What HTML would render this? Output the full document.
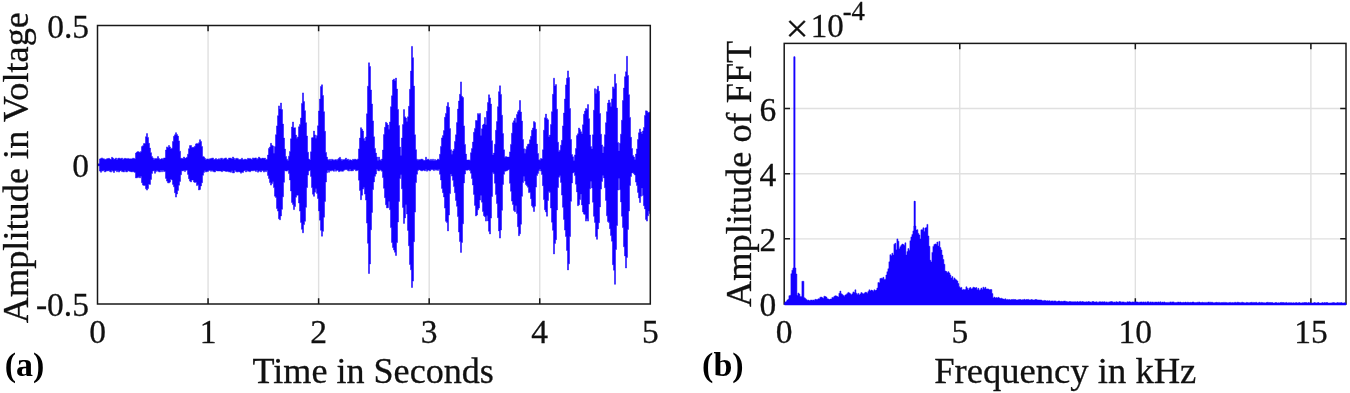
<!DOCTYPE html>
<html><head><meta charset="utf-8"><title>Signal and FFT</title>
<style>html,body{margin:0;padding:0;background:#fff;width:1350px;height:393px;overflow:hidden}svg{display:block;filter:blur(0.3px)}</style>
</head><body>
<svg width="1350" height="393" viewBox="0 0 1350 393">
<rect width="1350" height="393" fill="#fff"/>
<g stroke="#e0e0e0" stroke-width="1.4"><line x1="208.06" y1="25.50" x2="208.06" y2="304.00"/><line x1="318.62" y1="25.50" x2="318.62" y2="304.00"/><line x1="429.18" y1="25.50" x2="429.18" y2="304.00"/><line x1="539.74" y1="25.50" x2="539.74" y2="304.00"/></g>
<path d="M208.06 304.00v-5.8M208.06 25.50v5.8M318.62 304.00v-5.8M318.62 25.50v5.8M429.18 304.00v-5.8M429.18 25.50v5.8M539.74 304.00v-5.8M539.74 25.50v5.8M97.50 164.75h5.8M650.30 164.75h-5.8" stroke="#181818" stroke-width="1.5" fill="none"/>
<polygon points="97.5,163.8 98.5,163.8 98.5,163.8 99.5,163.8 99.5,158.9 100.5,158.9 100.5,158.4 101.5,158.4 101.5,157.9 102.5,157.9 102.5,158.7 103.5,158.7 103.5,158.8 104.5,158.8 104.5,159.6 105.5,159.6 105.5,159.2 106.5,159.2 106.5,158.8 107.5,158.8 107.5,158.5 108.5,158.5 108.5,158.3 109.5,158.3 109.5,159 110.5,159 110.5,159.6 111.5,159.6 111.5,157.3 112.5,157.3 112.5,158.1 113.5,158.1 113.5,159.3 114.5,159.3 114.5,158.9 115.5,158.9 115.5,158 116.5,158 116.5,159.7 117.5,159.7 117.5,158.6 118.5,158.6 118.5,158 119.5,158 119.5,158.4 120.5,158.4 120.5,158.7 121.5,158.7 121.5,158.1 122.5,158.1 122.5,159.5 123.5,159.5 123.5,158.8 124.5,158.8 124.5,158.3 125.5,158.3 125.5,158.5 126.5,158.5 126.5,158.9 127.5,158.9 127.5,158.4 128.5,158.4 128.5,158.8 129.5,158.8 129.5,159 130.5,159 130.5,158.8 131.5,158.8 131.5,159 132.5,159 132.5,158.2 133.5,158.2 133.5,158.3 134.5,158.3 134.5,159.1 135.5,159.1 135.5,153.1 136.5,153.1 136.5,152.1 137.5,152.1 137.5,151.5 138.5,151.5 138.5,151.9 139.5,151.9 139.5,152.6 140.5,152.6 140.5,151.5 141.5,151.5 141.5,146.6 142.5,146.6 142.5,145.7 143.5,145.7 143.5,143.6 144.5,143.6 144.5,143.5 145.5,143.5 145.5,136.7 146.5,136.7 146.5,133.6 147.5,133.6 147.5,137.4 148.5,137.4 148.5,143.3 149.5,143.3 149.5,148.1 150.5,148.1 150.5,152.7 151.5,152.7 151.5,156.5 152.5,156.5 152.5,157.9 153.5,157.9 153.5,159.5 154.5,159.5 154.5,158.4 155.5,158.4 155.5,158.8 156.5,158.8 156.5,158.4 157.5,158.4 157.5,156.6 158.5,156.6 158.5,158.5 159.5,158.5 159.5,159.6 160.5,159.6 160.5,159.1 161.5,159.1 161.5,158.6 162.5,158.6 162.5,159.3 163.5,159.3 163.5,158 164.5,158 164.5,158 165.5,158 165.5,150 166.5,150 166.5,146.9 167.5,146.9 167.5,147.8 168.5,147.8 168.5,145.5 169.5,145.5 169.5,146.9 170.5,146.9 170.5,148.9 171.5,148.9 171.5,148.2 172.5,148.2 172.5,141.5 173.5,141.5 173.5,136.3 174.5,136.3 174.5,134.8 175.5,134.8 175.5,132.7 176.5,132.7 176.5,134.5 177.5,134.5 177.5,136.1 178.5,136.1 178.5,140.9 179.5,140.9 179.5,151.2 180.5,151.2 180.5,158.3 181.5,158.3 181.5,158.3 182.5,158.3 182.5,158.8 183.5,158.8 183.5,157 184.5,157 184.5,158.3 185.5,158.3 185.5,158.1 186.5,158.1 186.5,157.2 187.5,157.2 187.5,154.2 188.5,154.2 188.5,148.7 189.5,148.7 189.5,145.6 190.5,145.6 190.5,145.5 191.5,145.5 191.5,147.6 192.5,147.6 192.5,147.3 193.5,147.3 193.5,147.2 194.5,147.2 194.5,146.2 195.5,146.2 195.5,143.9 196.5,143.9 196.5,143.4 197.5,143.4 197.5,143.9 198.5,143.9 198.5,142.7 199.5,142.7 199.5,139.7 200.5,139.7 200.5,141.5 201.5,141.5 201.5,146.5 202.5,146.5 202.5,156.4 203.5,156.4 203.5,156.9 204.5,156.9 204.5,158.3 205.5,158.3 205.5,159.7 206.5,159.7 206.5,158.9 207.5,158.9 207.5,158.9 208.5,158.9 208.5,159.6 209.5,159.6 209.5,158.7 210.5,158.7 210.5,158.6 211.5,158.6 211.5,158.2 212.5,158.2 212.5,158 213.5,158 213.5,159.5 214.5,159.5 214.5,159.3 215.5,159.3 215.5,158.5 216.5,158.5 216.5,159.5 217.5,159.5 217.5,159.3 218.5,159.3 218.5,158.7 219.5,158.7 219.5,159.4 220.5,159.4 220.5,158.3 221.5,158.3 221.5,158.2 222.5,158.2 222.5,159.6 223.5,159.6 223.5,158.7 224.5,158.7 224.5,158.3 225.5,158.3 225.5,157.9 226.5,157.9 226.5,159.2 227.5,159.2 227.5,159.4 228.5,159.4 228.5,158.1 229.5,158.1 229.5,158.1 230.5,158.1 230.5,158.2 231.5,158.2 231.5,158.9 232.5,158.9 232.5,157 233.5,157 233.5,158.2 234.5,158.2 234.5,159.4 235.5,159.4 235.5,158.5 236.5,158.5 236.5,158.2 237.5,158.2 237.5,158.7 238.5,158.7 238.5,159.4 239.5,159.4 239.5,159.6 240.5,159.6 240.5,159.2 241.5,159.2 241.5,158.2 242.5,158.2 242.5,159.6 243.5,159.6 243.5,159.7 244.5,159.7 244.5,159 245.5,159 245.5,159.6 246.5,159.6 246.5,159.4 247.5,159.4 247.5,158.3 248.5,158.3 248.5,158.8 249.5,158.8 249.5,158.4 250.5,158.4 250.5,158.9 251.5,158.9 251.5,159.5 252.5,159.5 252.5,157.9 253.5,157.9 253.5,158.6 254.5,158.6 254.5,158 255.5,158 255.5,157.9 256.5,157.9 256.5,159.3 257.5,159.3 257.5,158.5 258.5,158.5 258.5,157.1 259.5,157.1 259.5,158 260.5,158 260.5,158.9 261.5,158.9 261.5,158.3 262.5,158.3 262.5,158.1 263.5,158.1 263.5,158.6 264.5,158.6 264.5,158.1 265.5,158.1 265.5,159.7 266.5,159.7 266.5,159.2 267.5,159.2 267.5,155.1 268.5,155.1 268.5,148.4 269.5,148.4 269.5,147 270.5,147 270.5,143.3 271.5,143.3 271.5,145.3 272.5,145.3 272.5,145.9 273.5,145.9 273.5,153.3 274.5,153.3 274.5,146.6 275.5,146.6 275.5,134.7 276.5,134.7 276.5,125.9 277.5,125.9 277.5,115.7 278.5,115.7 278.5,105.9 279.5,105.9 279.5,108.9 280.5,108.9 280.5,103 281.5,103 281.5,109.6 282.5,109.6 282.5,124.1 283.5,124.1 283.5,138.1 284.5,138.1 284.5,149.1 285.5,149.1 285.5,156.5 286.5,156.5 286.5,159.2 287.5,159.2 287.5,160.5 288.5,160.5 288.5,156.2 289.5,156.2 289.5,151.4 290.5,151.4 290.5,138.8 291.5,138.8 291.5,127 292.5,127 292.5,122 293.5,122 293.5,128.1 294.5,128.1 294.5,127.7 295.5,127.7 295.5,135.1 296.5,135.1 296.5,138.2 297.5,138.2 297.5,136.9 298.5,136.9 298.5,126.8 299.5,126.8 299.5,124.4 300.5,124.4 300.5,118 301.5,118 301.5,103.4 302.5,103.4 302.5,92.9 303.5,92.9 303.5,101.6 304.5,101.6 304.5,110.7 305.5,110.7 305.5,122.7 306.5,122.7 306.5,136 307.5,136 307.5,152.2 308.5,152.2 308.5,159 309.5,159 309.5,159.9 310.5,159.9 310.5,151.8 311.5,151.8 311.5,137.8 312.5,137.8 312.5,137.6 313.5,137.6 313.5,131.1 314.5,131.1 314.5,134.9 315.5,134.9 315.5,138.2 316.5,138.2 316.5,135.6 317.5,135.6 317.5,125.8 318.5,125.8 318.5,111 319.5,111 319.5,99.1 320.5,99.1 320.5,86.4 321.5,86.4 321.5,84.8 322.5,84.8 322.5,95.5 323.5,95.5 323.5,111.7 324.5,111.7 324.5,131.3 325.5,131.3 325.5,152.4 326.5,152.4 326.5,157.1 327.5,157.1 327.5,159.6 328.5,159.6 328.5,160.3 329.5,160.3 329.5,159.3 330.5,159.3 330.5,160.4 331.5,160.4 331.5,159.2 332.5,159.2 332.5,159.7 333.5,159.7 333.5,160.2 334.5,160.2 334.5,159.8 335.5,159.8 335.5,159.6 336.5,159.6 336.5,160.2 337.5,160.2 337.5,159.2 338.5,159.2 338.5,158.2 339.5,158.2 339.5,157.3 340.5,157.3 340.5,159.2 341.5,159.2 341.5,160.5 342.5,160.5 342.5,159.5 343.5,159.5 343.5,160.1 344.5,160.1 344.5,159.3 345.5,159.3 345.5,158.1 346.5,158.1 346.5,159.9 347.5,159.9 347.5,159.1 348.5,159.1 348.5,160.6 349.5,160.6 349.5,159.7 350.5,159.7 350.5,160.1 351.5,160.1 351.5,160.6 352.5,160.6 352.5,159.3 353.5,159.3 353.5,159.7 354.5,159.7 354.5,159.1 355.5,159.1 355.5,159.6 356.5,159.6 356.5,160.1 357.5,160.1 357.5,158.9 358.5,158.9 358.5,148.9 359.5,148.9 359.5,138.1 360.5,138.1 360.5,127.7 361.5,127.7 361.5,129.2 362.5,129.2 362.5,131 363.5,131 363.5,138.4 364.5,138.4 364.5,141 365.5,141 365.5,137 366.5,137 366.5,113.8 367.5,113.8 367.5,86.2 368.5,86.2 368.5,62.8 369.5,62.8 369.5,66.5 370.5,66.5 370.5,90 371.5,90 371.5,104 372.5,104 372.5,120.9 373.5,120.9 373.5,136.8 374.5,136.8 374.5,148.4 375.5,148.4 375.5,153.1 376.5,153.1 376.5,157 377.5,157 377.5,160.5 378.5,160.5 378.5,157.1 379.5,157.1 379.5,159.7 380.5,159.7 380.5,160.6 381.5,160.6 381.5,159 382.5,159 382.5,150 383.5,150 383.5,134.6 384.5,134.6 384.5,127.3 385.5,127.3 385.5,122.3 386.5,122.3 386.5,123.3 387.5,123.3 387.5,125 388.5,125 388.5,129.2 389.5,129.2 389.5,122 390.5,122 390.5,106.7 391.5,106.7 391.5,95.8 392.5,95.8 392.5,80.1 393.5,80.1 393.5,79.1 394.5,79.1 394.5,80.7 395.5,80.7 395.5,78.1 396.5,78.1 396.5,89 397.5,89 397.5,109.4 398.5,109.4 398.5,125.6 399.5,125.6 399.5,147.1 400.5,147.1 400.5,155.5 401.5,155.5 401.5,138 402.5,138 402.5,124.6 403.5,124.6 403.5,109.6 404.5,109.6 404.5,116.8 405.5,116.8 405.5,118.1 406.5,118.1 406.5,121.5 407.5,121.5 407.5,116.8 408.5,116.8 408.5,106.3 409.5,106.3 409.5,89.3 410.5,89.3 410.5,71.1 411.5,71.1 411.5,46.4 412.5,46.4 412.5,57.7 413.5,57.7 413.5,86.1 414.5,86.1 414.5,134.8 415.5,134.8 415.5,149.7 416.5,149.7 416.5,159.2 417.5,159.2 417.5,160.3 418.5,160.3 418.5,159.5 419.5,159.5 419.5,160 420.5,160 420.5,159.3 421.5,159.3 421.5,159.1 422.5,159.1 422.5,159.8 423.5,159.8 423.5,160.5 424.5,160.5 424.5,160.3 425.5,160.3 425.5,157.2 426.5,157.2 426.5,160.1 427.5,160.1 427.5,159.1 428.5,159.1 428.5,159.8 429.5,159.8 429.5,160.6 430.5,160.6 430.5,159.3 431.5,159.3 431.5,160.6 432.5,160.6 432.5,159.2 433.5,159.2 433.5,160.7 434.5,160.7 434.5,159.5 435.5,159.5 435.5,160.4 436.5,160.4 436.5,160.1 437.5,160.1 437.5,159 438.5,159 438.5,159.8 439.5,159.8 439.5,154.3 440.5,154.3 440.5,146.4 441.5,146.4 441.5,137.9 442.5,137.9 442.5,135.6 443.5,135.6 443.5,130.6 444.5,130.6 444.5,117.3 445.5,117.3 445.5,113.4 446.5,113.4 446.5,106.2 447.5,106.2 447.5,102.6 448.5,102.6 448.5,107.3 449.5,107.3 449.5,128.6 450.5,128.6 450.5,149.7 451.5,149.7 451.5,154.3 452.5,154.3 452.5,150.9 453.5,150.9 453.5,149.3 454.5,149.3 454.5,141.4 455.5,141.4 455.5,134.8 456.5,134.8 456.5,122.6 457.5,122.6 457.5,109.1 458.5,109.1 458.5,101 459.5,101 459.5,94.3 460.5,94.3 460.5,81.9 461.5,81.9 461.5,96.3 462.5,96.3 462.5,97.5 463.5,97.5 463.5,125.9 464.5,125.9 464.5,144.4 465.5,144.4 465.5,154.1 466.5,154.1 466.5,160 467.5,160 467.5,160.1 468.5,160.1 468.5,159.9 469.5,159.9 469.5,160.2 470.5,160.2 470.5,152.7 471.5,152.7 471.5,148.6 472.5,148.6 472.5,142.1 473.5,142.1 473.5,132.3 474.5,132.3 474.5,128.4 475.5,128.4 475.5,120.5 476.5,120.5 476.5,120.5 477.5,120.5 477.5,113.6 478.5,113.6 478.5,114.6 479.5,114.6 479.5,113.4 480.5,113.4 480.5,135.5 481.5,135.5 481.5,128.8 482.5,128.8 482.5,125 483.5,125 483.5,124 484.5,124 484.5,117.5 485.5,117.5 485.5,124.7 486.5,124.7 486.5,111.3 487.5,111.3 487.5,102.5 488.5,102.5 488.5,94.8 489.5,94.8 489.5,97.9 490.5,97.9 490.5,104.1 491.5,104.1 491.5,140.7 492.5,140.7 492.5,155.1 493.5,155.1 493.5,153.1 494.5,153.1 494.5,144.2 495.5,144.2 495.5,130.3 496.5,130.3 496.5,121.6 497.5,121.6 497.5,106.7 498.5,106.7 498.5,91.7 499.5,91.7 499.5,85.8 500.5,85.8 500.5,94.4 501.5,94.4 501.5,115.2 502.5,115.2 502.5,133.6 503.5,133.6 503.5,149.8 504.5,149.8 504.5,157.2 505.5,157.2 505.5,156.6 506.5,156.6 506.5,157.1 507.5,157.1 507.5,157.1 508.5,157.1 508.5,157.1 509.5,157.1 509.5,151.9 510.5,151.9 510.5,144.4 511.5,144.4 511.5,133.2 512.5,133.2 512.5,122.8 513.5,122.8 513.5,120.8 514.5,120.8 514.5,118.2 515.5,118.2 515.5,122.5 516.5,122.5 516.5,114.4 517.5,114.4 517.5,111.8 518.5,111.8 518.5,110.2 519.5,110.2 519.5,100.5 520.5,100.5 520.5,112 521.5,112 521.5,121.1 522.5,121.1 522.5,139.5 523.5,139.5 523.5,148.7 524.5,148.7 524.5,153.3 525.5,153.3 525.5,149.2 526.5,149.2 526.5,146.6 527.5,146.6 527.5,144.3 528.5,144.3 528.5,143.9 529.5,143.9 529.5,139.8 530.5,139.8 530.5,136.3 531.5,136.3 531.5,130.3 532.5,130.3 532.5,128 533.5,128 533.5,121.6 534.5,121.6 534.5,122.6 535.5,122.6 535.5,129.2 536.5,129.2 536.5,144.1 537.5,144.1 537.5,153.5 538.5,153.5 538.5,159.7 539.5,159.7 539.5,160.3 540.5,160.3 540.5,158.5 541.5,158.5 541.5,159 542.5,159 542.5,149.8 543.5,149.8 543.5,130.2 544.5,130.2 544.5,117.8 545.5,117.8 545.5,114.1 546.5,114.1 546.5,118.4 547.5,118.4 547.5,119.8 548.5,119.8 548.5,136.7 549.5,136.7 549.5,135.1 550.5,135.1 550.5,124.5 551.5,124.5 551.5,111.7 552.5,111.7 552.5,94.3 553.5,94.3 553.5,78.2 554.5,78.2 554.5,85.9 555.5,85.9 555.5,84.6 556.5,84.6 556.5,109.2 557.5,109.2 557.5,142.2 558.5,142.2 558.5,151.4 559.5,151.4 559.5,150.2 560.5,150.2 560.5,145.2 561.5,145.2 561.5,140.3 562.5,140.3 562.5,125.9 563.5,125.9 563.5,113 564.5,113 564.5,99 565.5,99 565.5,84.9 566.5,84.9 566.5,78.2 567.5,78.2 567.5,70.9 568.5,70.9 568.5,77.5 569.5,77.5 569.5,108.5 570.5,108.5 570.5,139.5 571.5,139.5 571.5,154.6 572.5,154.6 572.5,156.8 573.5,156.8 573.5,160.4 574.5,160.4 574.5,154.9 575.5,154.9 575.5,148.5 576.5,148.5 576.5,135.6 577.5,135.6 577.5,133.8 578.5,133.8 578.5,128 579.5,128 579.5,129.6 580.5,129.6 580.5,131.8 581.5,131.8 581.5,134 582.5,134 582.5,124.8 583.5,124.8 583.5,114.2 584.5,114.2 584.5,111.1 585.5,111.1 585.5,108.5 586.5,108.5 586.5,109.2 587.5,109.2 587.5,104.6 588.5,104.6 588.5,118.7 589.5,118.7 589.5,135 590.5,135 590.5,146.6 591.5,146.6 591.5,149.1 592.5,149.1 592.5,134.8 593.5,134.8 593.5,110.2 594.5,110.2 594.5,88.7 595.5,88.7 595.5,93.5 596.5,93.5 596.5,89.5 597.5,89.5 597.5,86.2 598.5,86.2 598.5,91.3 599.5,91.3 599.5,113.5 600.5,113.5 600.5,134.2 601.5,134.2 601.5,144.9 602.5,144.9 602.5,153.1 603.5,153.1 603.5,146.7 604.5,146.7 604.5,134.7 605.5,134.7 605.5,122.7 606.5,122.7 606.5,111.7 607.5,111.7 607.5,103.1 608.5,103.1 608.5,100.1 609.5,100.1 609.5,102.7 610.5,102.7 610.5,106.4 611.5,106.4 611.5,98.9 612.5,98.9 612.5,86.9 613.5,86.9 613.5,88.5 614.5,88.5 614.5,74.2 615.5,74.2 615.5,83.6 616.5,83.6 616.5,108.1 617.5,108.1 617.5,142.5 618.5,142.5 618.5,151 619.5,151 619.5,143.2 620.5,143.2 620.5,134.2 621.5,134.2 621.5,120.2 622.5,120.2 622.5,100.5 623.5,100.5 623.5,88.1 624.5,88.1 624.5,76.7 625.5,76.7 625.5,71.8 626.5,71.8 626.5,56.3 627.5,56.3 627.5,75.4 628.5,75.4 628.5,94.7 629.5,94.7 629.5,117.4 630.5,117.4 630.5,137.3 631.5,137.3 631.5,148.5 632.5,148.5 632.5,155.5 633.5,155.5 633.5,157 634.5,157 634.5,159.4 635.5,159.4 635.5,154.1 636.5,154.1 636.5,148.9 637.5,148.9 637.5,139.5 638.5,139.5 638.5,132.8 639.5,132.8 639.5,129 640.5,129 640.5,131.9 641.5,131.9 641.5,134 642.5,134 642.5,131 643.5,131 643.5,127.5 644.5,127.5 644.5,115.4 645.5,115.4 645.5,110.8 646.5,110.8 646.5,111.1 647.5,111.1 647.5,112.5 648.5,112.5 648.5,112.4 649.5,112.4 649.5,112 650.3,112 650.3,213.6 649.5,213.6 649.5,211 648.5,211 648.5,215.8 647.5,215.8 647.5,221.1 646.5,221.1 646.5,219.4 645.5,219.4 645.5,208.9 644.5,208.9 644.5,205.7 643.5,205.7 643.5,195.6 642.5,195.6 642.5,188 641.5,188 641.5,196.2 640.5,196.2 640.5,202.5 639.5,202.5 639.5,197.9 638.5,197.9 638.5,192.4 637.5,192.4 637.5,185.6 636.5,185.6 636.5,182.1 635.5,182.1 635.5,175 634.5,175 634.5,173.7 633.5,173.7 633.5,172.7 632.5,172.7 632.5,172.9 631.5,172.9 631.5,176.5 630.5,176.5 630.5,185.5 629.5,185.5 629.5,211 628.5,211 628.5,229.4 627.5,229.4 627.5,257.4 626.5,257.4 626.5,268 625.5,268 625.5,255.9 624.5,255.9 624.5,246.8 623.5,246.8 623.5,227.6 622.5,227.6 622.5,216.2 621.5,216.2 621.5,201.9 620.5,201.9 620.5,189.7 619.5,189.7 619.5,178.6 618.5,178.6 618.5,190.1 617.5,190.1 617.5,225.5 616.5,225.5 616.5,249.5 615.5,249.5 615.5,284.3 614.5,284.3 614.5,270.2 613.5,270.2 613.5,264.7 612.5,264.7 612.5,241.2 611.5,241.2 611.5,235.6 610.5,235.6 610.5,228.7 609.5,228.7 609.5,222.5 608.5,222.5 608.5,221.6 607.5,221.6 607.5,215.8 606.5,215.8 606.5,200.4 605.5,200.4 605.5,187.8 604.5,187.8 604.5,177.9 603.5,177.9 603.5,175.5 602.5,175.5 602.5,181.4 601.5,181.4 601.5,189.1 600.5,189.1 600.5,206.9 599.5,206.9 599.5,222.7 598.5,222.7 598.5,228.9 597.5,228.9 597.5,239.3 596.5,239.3 596.5,236.5 595.5,236.5 595.5,222.4 594.5,222.4 594.5,216.3 593.5,216.3 593.5,202.2 592.5,202.2 592.5,187.9 591.5,187.9 591.5,181.6 590.5,181.6 590.5,188.8 589.5,188.8 589.5,204.1 588.5,204.1 588.5,221.1 587.5,221.1 587.5,218.7 586.5,218.7 586.5,221.1 585.5,221.1 585.5,214.6 584.5,214.6 584.5,214.1 583.5,214.1 583.5,211.9 582.5,211.9 582.5,204.9 581.5,204.9 581.5,194 580.5,194 580.5,199.6 579.5,199.6 579.5,204.8 578.5,204.8 578.5,205.7 577.5,205.7 577.5,191.9 576.5,191.9 576.5,184.2 575.5,184.2 575.5,175.6 574.5,175.6 574.5,172 573.5,172 573.5,173 572.5,173 572.5,182.9 571.5,182.9 571.5,201.3 570.5,201.3 570.5,236.6 569.5,236.6 569.5,263.8 568.5,263.8 568.5,269.9 567.5,269.9 567.5,250.5 566.5,250.5 566.5,236.5 565.5,236.5 565.5,230.1 564.5,230.1 564.5,219.4 563.5,219.4 563.5,207.3 562.5,207.3 562.5,195.1 561.5,195.1 561.5,182.4 560.5,182.4 560.5,175.8 559.5,175.8 559.5,177.3 558.5,177.3 558.5,187.5 557.5,187.5 557.5,209.9 556.5,209.9 556.5,239.7 555.5,239.7 555.5,243.4 554.5,243.4 554.5,253.9 553.5,253.9 553.5,230.3 552.5,230.3 552.5,222.2 551.5,222.2 551.5,208 550.5,208 550.5,192.5 549.5,192.5 549.5,191.4 548.5,191.4 548.5,200.5 547.5,200.5 547.5,216.2 546.5,216.2 546.5,211.9 545.5,211.9 545.5,209.8 544.5,209.8 544.5,199.6 543.5,199.6 543.5,185.7 542.5,185.7 542.5,174.5 541.5,174.5 541.5,171.1 540.5,171.1 540.5,169.3 539.5,169.3 539.5,170.7 538.5,170.7 538.5,173.4 537.5,173.4 537.5,175.6 536.5,175.6 536.5,187.1 535.5,187.1 535.5,206.2 534.5,206.2 534.5,211.5 533.5,211.5 533.5,207.3 532.5,207.3 532.5,205.8 531.5,205.8 531.5,198.7 530.5,198.7 530.5,192.6 529.5,192.6 529.5,192.6 528.5,192.6 528.5,187.3 527.5,187.3 527.5,185.8 526.5,185.8 526.5,184.5 525.5,184.5 525.5,181.1 524.5,181.1 524.5,176.6 523.5,176.6 523.5,182.6 522.5,182.6 522.5,196.3 521.5,196.3 521.5,224.2 520.5,224.2 520.5,233.8 519.5,233.8 519.5,235.7 518.5,235.7 518.5,226.7 517.5,226.7 517.5,213.6 516.5,213.6 516.5,205.8 515.5,205.8 515.5,211.7 514.5,211.7 514.5,210.4 513.5,210.4 513.5,204.5 512.5,204.5 512.5,201.1 511.5,201.1 511.5,191.3 510.5,191.3 510.5,183.3 509.5,183.3 509.5,169.5 508.5,169.5 508.5,170 507.5,170 507.5,170.7 506.5,170.7 506.5,171 505.5,171 505.5,171.3 504.5,171.3 504.5,174.3 503.5,174.3 503.5,184.4 502.5,184.4 502.5,210.3 501.5,210.3 501.5,230 500.5,230 500.5,238.1 499.5,238.1 499.5,230.9 498.5,230.9 498.5,217.7 497.5,217.7 497.5,203.6 496.5,203.6 496.5,194.6 495.5,194.6 495.5,183.2 494.5,183.2 494.5,173.7 493.5,173.7 493.5,172.5 492.5,172.5 492.5,196.5 491.5,196.5 491.5,218.1 490.5,218.1 490.5,233.9 489.5,233.9 489.5,231.3 488.5,231.3 488.5,220.9 487.5,220.9 487.5,215.8 486.5,215.8 486.5,221.1 485.5,221.1 485.5,216.7 484.5,216.7 484.5,215.7 483.5,215.7 483.5,211.6 482.5,211.6 482.5,202.2 481.5,202.2 481.5,195.5 480.5,195.5 480.5,200.1 479.5,200.1 479.5,208 478.5,208 478.5,209.8 477.5,209.8 477.5,215 476.5,215 476.5,215.9 475.5,215.9 475.5,205.4 474.5,205.4 474.5,194.4 473.5,194.4 473.5,185 472.5,185 472.5,178.5 471.5,178.5 471.5,173.2 470.5,173.2 470.5,170.6 469.5,170.6 469.5,169.8 468.5,169.8 468.5,169.9 467.5,169.9 467.5,170.3 466.5,170.3 466.5,169.9 465.5,169.9 465.5,174 464.5,174 464.5,182.9 463.5,182.9 463.5,223.8 462.5,223.8 462.5,242.4 461.5,242.4 461.5,252.4 460.5,252.4 460.5,241.6 459.5,241.6 459.5,232 458.5,232 458.5,216.6 457.5,216.6 457.5,206.3 456.5,206.3 456.5,200.5 455.5,200.5 455.5,192.7 454.5,192.7 454.5,186.6 453.5,186.6 453.5,180.3 452.5,180.3 452.5,176.1 451.5,176.1 451.5,174.1 450.5,174.1 450.5,193.6 449.5,193.6 449.5,215 448.5,215 448.5,230.9 447.5,230.9 447.5,222.6 446.5,222.6 446.5,221.3 445.5,221.3 445.5,208.1 444.5,208.1 444.5,197 443.5,197 443.5,192.7 442.5,192.7 442.5,188.4 441.5,188.4 441.5,180 440.5,180 440.5,174.3 439.5,174.3 439.5,169.6 438.5,169.6 438.5,170.4 437.5,170.4 437.5,169.8 436.5,169.8 436.5,170.2 435.5,170.2 435.5,169.5 434.5,169.5 434.5,170.6 433.5,170.6 433.5,169.8 432.5,169.8 432.5,169.6 431.5,169.6 431.5,169.8 430.5,169.8 430.5,170.9 429.5,170.9 429.5,170 428.5,170 428.5,170.2 427.5,170.2 427.5,171.2 426.5,171.2 426.5,169.5 425.5,169.5 425.5,170.9 424.5,170.9 424.5,170.3 423.5,170.3 423.5,170.2 422.5,170.2 422.5,171 421.5,171 421.5,170.6 420.5,170.6 420.5,169.9 419.5,169.9 419.5,169.7 418.5,169.7 418.5,170.4 417.5,170.4 417.5,174.2 416.5,174.2 416.5,182.6 415.5,182.6 415.5,212.1 414.5,212.1 414.5,241.7 413.5,241.7 413.5,281.1 412.5,281.1 412.5,287.5 411.5,287.5 411.5,269.8 410.5,269.8 410.5,264.5 409.5,264.5 409.5,245.8 408.5,245.8 408.5,230.4 407.5,230.4 407.5,214 406.5,214 406.5,204.8 405.5,204.8 405.5,217.9 404.5,217.9 404.5,223.4 403.5,223.4 403.5,207.4 402.5,207.4 402.5,188.8 401.5,188.8 401.5,174.7 400.5,174.7 400.5,178.5 399.5,178.5 399.5,201.4 398.5,201.4 398.5,222 397.5,222 397.5,242.6 396.5,242.6 396.5,255.5 395.5,255.5 395.5,252.3 394.5,252.3 394.5,250 393.5,250 393.5,247.5 392.5,247.5 392.5,242.5 391.5,242.5 391.5,227.6 390.5,227.6 390.5,209.7 389.5,209.7 389.5,201.4 388.5,201.4 388.5,207.7 387.5,207.7 387.5,207.9 386.5,207.9 386.5,204.8 385.5,204.8 385.5,197.7 384.5,197.7 384.5,188.3 383.5,188.3 383.5,177.5 382.5,177.5 382.5,171.3 381.5,171.3 381.5,170.3 380.5,170.3 380.5,169.7 379.5,169.7 379.5,171 378.5,171 378.5,170.4 377.5,170.4 377.5,169.3 376.5,169.3 376.5,174 375.5,174 375.5,176.3 374.5,176.3 374.5,181.9 373.5,181.9 373.5,189.6 372.5,189.6 372.5,212.4 371.5,212.4 371.5,229.8 370.5,229.8 370.5,263.9 369.5,263.9 369.5,273.5 368.5,273.5 368.5,243.3 367.5,243.3 367.5,223.1 366.5,223.1 366.5,200.1 365.5,200.1 365.5,194.1 364.5,194.1 364.5,187.6 363.5,187.6 363.5,189.1 362.5,189.1 362.5,195.2 361.5,195.2 361.5,199.7 360.5,199.7 360.5,190.5 359.5,190.5 359.5,180.2 358.5,180.2 358.5,170 357.5,170 357.5,170.6 356.5,170.6 356.5,170.8 355.5,170.8 355.5,169.4 354.5,169.4 354.5,169.6 353.5,169.6 353.5,170.7 352.5,170.7 352.5,170.8 351.5,170.8 351.5,170.9 350.5,170.9 350.5,169.3 349.5,169.3 349.5,171.1 348.5,171.1 348.5,170.6 347.5,170.6 347.5,169.8 346.5,169.8 346.5,169.4 345.5,169.4 345.5,169.8 344.5,169.8 344.5,170.2 343.5,170.2 343.5,171.2 342.5,171.2 342.5,171.3 341.5,171.3 341.5,170.8 340.5,170.8 340.5,171.2 339.5,171.2 339.5,171.7 338.5,171.7 338.5,170.4 337.5,170.4 337.5,170 336.5,170 336.5,171.2 335.5,171.2 335.5,169.5 334.5,169.5 334.5,171.3 333.5,171.3 333.5,170.7 332.5,170.7 332.5,170.1 331.5,170.1 331.5,171.1 330.5,171.1 330.5,170.4 329.5,170.4 329.5,172.3 328.5,172.3 328.5,170.2 327.5,170.2 327.5,172.8 326.5,172.8 326.5,182 325.5,182 325.5,201.4 324.5,201.4 324.5,217.2 323.5,217.2 323.5,231.3 322.5,231.3 322.5,236.2 321.5,236.2 321.5,230.3 320.5,230.3 320.5,220.2 319.5,220.2 319.5,210.9 318.5,210.9 318.5,198.5 317.5,198.5 317.5,193.4 316.5,193.4 316.5,188.8 315.5,188.8 315.5,192.2 314.5,192.2 314.5,196.3 313.5,196.3 313.5,194.2 312.5,194.2 312.5,187.6 311.5,187.6 311.5,176.4 310.5,176.4 310.5,170.3 309.5,170.3 309.5,171 308.5,171 308.5,175.1 307.5,175.1 307.5,187.5 306.5,187.5 306.5,207.3 305.5,207.3 305.5,221.3 304.5,221.3 304.5,224.6 303.5,224.6 303.5,232.8 302.5,232.8 302.5,229.3 301.5,229.3 301.5,222.4 300.5,222.4 300.5,211.1 299.5,211.1 299.5,203 298.5,203 298.5,195.2 297.5,195.2 297.5,195.2 296.5,195.2 296.5,197.2 295.5,197.2 295.5,206.5 294.5,206.5 294.5,209.6 293.5,209.6 293.5,204.6 292.5,204.6 292.5,202.5 291.5,202.5 291.5,191 290.5,191 290.5,180 289.5,180 289.5,173.6 288.5,173.6 288.5,170 287.5,170 287.5,171.1 286.5,171.1 286.5,170.9 285.5,170.9 285.5,170.7 284.5,170.7 284.5,182.3 283.5,182.3 283.5,196.8 282.5,196.8 282.5,209.3 281.5,209.3 281.5,215.9 280.5,215.9 280.5,219.8 279.5,219.8 279.5,218.8 278.5,218.8 278.5,211.1 277.5,211.1 277.5,208.6 276.5,208.6 276.5,197.5 275.5,197.5 275.5,196.2 274.5,196.2 274.5,187.6 273.5,187.6 273.5,181.8 272.5,181.8 272.5,183.6 271.5,183.6 271.5,185.1 270.5,185.1 270.5,182.6 269.5,182.6 269.5,178.5 268.5,178.5 268.5,175.5 267.5,175.5 267.5,170.4 266.5,170.4 266.5,171.7 265.5,171.7 265.5,170.7 264.5,170.7 264.5,172.1 263.5,172.1 263.5,170.8 262.5,170.8 262.5,170.5 261.5,170.5 261.5,171.9 260.5,171.9 260.5,170.8 259.5,170.8 259.5,171.3 258.5,171.3 258.5,172.2 257.5,172.2 257.5,170.3 256.5,170.3 256.5,171.5 255.5,171.5 255.5,170.8 254.5,170.8 254.5,170.3 253.5,170.3 253.5,171 252.5,171 252.5,170.5 251.5,170.5 251.5,171 250.5,171 250.5,171.8 249.5,171.8 249.5,171.2 248.5,171.2 248.5,171.3 247.5,171.3 247.5,170.5 246.5,170.5 246.5,171.9 245.5,171.9 245.5,170.3 244.5,170.3 244.5,170.9 243.5,170.9 243.5,172.4 242.5,172.4 242.5,172 241.5,172 241.5,173.2 240.5,173.2 240.5,172 239.5,172 239.5,171.7 238.5,171.7 238.5,171.8 237.5,171.8 237.5,172.1 236.5,172.1 236.5,171.5 235.5,171.5 235.5,170.2 234.5,170.2 234.5,172.8 233.5,172.8 233.5,172.9 232.5,172.9 232.5,170.7 231.5,170.7 231.5,172.3 230.5,172.3 230.5,171.8 229.5,171.8 229.5,172 228.5,172 228.5,171 227.5,171 227.5,171.5 226.5,171.5 226.5,171.4 225.5,171.4 225.5,171 224.5,171 224.5,170.9 223.5,170.9 223.5,170.8 222.5,170.8 222.5,171.7 221.5,171.7 221.5,171.1 220.5,171.1 220.5,171 219.5,171 219.5,171 218.5,171 218.5,171 217.5,171 217.5,170.9 216.5,170.9 216.5,170.4 215.5,170.4 215.5,172 214.5,172 214.5,171.8 213.5,171.8 213.5,171.3 212.5,171.3 212.5,170.6 211.5,170.6 211.5,171.3 210.5,171.3 210.5,170.3 209.5,170.3 209.5,170.5 208.5,170.5 208.5,171.4 207.5,171.4 207.5,171.6 206.5,171.6 206.5,172 205.5,172 205.5,170.7 204.5,170.7 204.5,172.4 203.5,172.4 203.5,175.3 202.5,175.3 202.5,182.7 201.5,182.7 201.5,185.9 200.5,185.9 200.5,189.4 199.5,189.4 199.5,190 198.5,190 198.5,184.7 197.5,184.7 197.5,185.6 196.5,185.6 196.5,182 195.5,182 195.5,182.5 194.5,182.5 194.5,182 193.5,182 193.5,180.1 192.5,180.1 192.5,179.9 191.5,179.9 191.5,181.9 190.5,181.9 190.5,181.1 189.5,181.1 189.5,178.7 188.5,178.7 188.5,174.4 187.5,174.4 187.5,170.3 186.5,170.3 186.5,170.3 185.5,170.3 185.5,171.6 184.5,171.6 184.5,170.3 183.5,170.3 183.5,171 182.5,171 182.5,170.7 181.5,170.7 181.5,174.7 180.5,174.7 180.5,181.4 179.5,181.4 179.5,185.2 178.5,185.2 178.5,190.4 177.5,190.4 177.5,194 176.5,194 176.5,197.1 175.5,197.1 175.5,192.8 174.5,192.8 174.5,186.8 173.5,186.8 173.5,184.4 172.5,184.4 172.5,179.9 171.5,179.9 171.5,179.1 170.5,179.1 170.5,182.1 169.5,182.1 169.5,183 168.5,183 168.5,182.8 167.5,182.8 167.5,181.1 166.5,181.1 166.5,178.4 165.5,178.4 165.5,171.4 164.5,171.4 164.5,171.6 163.5,171.6 163.5,170.3 162.5,170.3 162.5,171.8 161.5,171.8 161.5,170.2 160.5,170.2 160.5,172 159.5,172 159.5,171.8 158.5,171.8 158.5,171.3 157.5,171.3 157.5,170.4 156.5,170.4 156.5,171.6 155.5,171.6 155.5,173.3 154.5,173.3 154.5,170.8 153.5,170.8 153.5,170.9 152.5,170.9 152.5,173.4 151.5,173.4 151.5,179.4 150.5,179.4 150.5,184.4 149.5,184.4 149.5,184.1 148.5,184.1 148.5,188.5 147.5,188.5 147.5,190.1 146.5,190.1 146.5,188.8 145.5,188.8 145.5,185.4 144.5,185.4 144.5,185.5 143.5,185.5 143.5,185.1 142.5,185.1 142.5,182.7 141.5,182.7 141.5,176.6 140.5,176.6 140.5,177.9 139.5,177.9 139.5,176.7 138.5,176.7 138.5,177.6 137.5,177.6 137.5,177.7 136.5,177.7 136.5,177.9 135.5,177.9 135.5,172.4 134.5,172.4 134.5,171.9 133.5,171.9 133.5,171.6 132.5,171.6 132.5,171.9 131.5,171.9 131.5,171.7 130.5,171.7 130.5,171.4 129.5,171.4 129.5,171.1 128.5,171.1 128.5,170.8 127.5,170.8 127.5,171.9 126.5,171.9 126.5,171.8 125.5,171.8 125.5,170.5 124.5,170.5 124.5,172 123.5,172 123.5,171.7 122.5,171.7 122.5,171.6 121.5,171.6 121.5,170.5 120.5,170.5 120.5,171 119.5,171 119.5,172.1 118.5,172.1 118.5,170.8 117.5,170.8 117.5,171.8 116.5,171.8 116.5,170.4 115.5,170.4 115.5,170.8 114.5,170.8 114.5,172.5 113.5,172.5 113.5,171.2 112.5,171.2 112.5,170.5 111.5,170.5 111.5,172.1 110.5,172.1 110.5,171.5 109.5,171.5 109.5,170.4 108.5,170.4 108.5,171 107.5,171 107.5,170.7 106.5,170.7 106.5,171.2 105.5,171.2 105.5,172 104.5,172 104.5,170.3 103.5,170.3 103.5,171.1 102.5,171.1 102.5,170.7 101.5,170.7 101.5,172.3 100.5,172.3 100.5,171.1 99.5,171.1 99.5,165.8 98.5,165.8 98.5,165.8 97.5,165.8" fill="#1400ff" stroke="#1400ff" stroke-width="0.5" stroke-linejoin="round"/>
<rect x="97.50" y="25.50" width="552.80" height="278.50" fill="none" stroke="#181818" stroke-width="1.5"/>
<g stroke="#e0e0e0" stroke-width="1.4"><line x1="959.76" y1="43.40" x2="959.76" y2="304.00"/><line x1="1135.33" y1="43.40" x2="1135.33" y2="304.00"/><line x1="1310.89" y1="43.40" x2="1310.89" y2="304.00"/><line x1="784.20" y1="238.85" x2="1346.00" y2="238.85"/><line x1="784.20" y1="173.70" x2="1346.00" y2="173.70"/><line x1="784.20" y1="108.55" x2="1346.00" y2="108.55"/></g>
<path d="M959.76 304.00v-5.8M959.76 43.40v5.8M1135.33 304.00v-5.8M1135.33 43.40v5.8M1310.89 304.00v-5.8M1310.89 43.40v5.8M784.20 238.85h5.8M1346.00 238.85h-5.8M784.20 173.70h5.8M1346.00 173.70h-5.8M784.20 108.55h5.8M1346.00 108.55h-5.8" stroke="#181818" stroke-width="1.5" fill="none"/>
<rect x="784.20" y="43.40" width="561.80" height="260.60" fill="none" stroke="#181818" stroke-width="1.5"/>
<polygon points="784.9,302.1 785.9,302.1 785.9,301.5 786.9,301.5 786.9,300.1 787.9,300.1 787.9,299.3 788.9,299.3 788.9,295.7 789.9,295.7 789.9,295.3 790.9,295.3 790.9,273.7 791.9,273.7 791.9,270.2 792.9,270.2 792.9,268 793.9,268 793.9,268 794.9,268 794.9,268 795.9,268 795.9,274 796.9,274 796.9,295.2 797.9,295.2 797.9,293 798.9,293 798.9,294.1 799.9,294.1 799.9,296.4 800.9,296.4 800.9,296.4 801.9,296.4 801.9,281.3 802.9,281.3 802.9,281.3 803.9,281.3 803.9,297.7 804.9,297.7 804.9,298.4 805.9,298.4 805.9,299.5 806.9,299.5 806.9,300.3 807.9,300.3 807.9,300.1 808.9,300.1 808.9,300.8 809.9,300.8 809.9,300.2 810.9,300.2 810.9,300.1 811.9,300.1 811.9,300.2 812.9,300.2 812.9,300 813.9,300 813.9,300.2 814.9,300.2 814.9,299.3 815.9,299.3 815.9,299.6 816.9,299.6 816.9,299.5 817.9,299.5 817.9,298.8 818.9,298.8 818.9,298.8 819.9,298.8 819.9,297.2 820.9,297.2 820.9,297.1 821.9,297.1 821.9,297.7 822.9,297.7 822.9,298.3 823.9,298.3 823.9,296.2 824.9,296.2 824.9,296.6 825.9,296.6 825.9,297.1 826.9,297.1 826.9,298.7 827.9,298.7 827.9,299 828.9,299 828.9,299.6 829.9,299.6 829.9,299.1 830.9,299.1 830.9,299.1 831.9,299.1 831.9,297.4 832.9,297.4 832.9,297.5 833.9,297.5 833.9,296.3 834.9,296.3 834.9,295.8 835.9,295.8 835.9,295.9 836.9,295.9 836.9,296.5 837.9,296.5 837.9,297.1 838.9,297.1 838.9,293.3 839.9,293.3 839.9,291.1 840.9,291.1 840.9,293.8 841.9,293.8 841.9,294.4 842.9,294.4 842.9,295.5 843.9,295.5 843.9,296.2 844.9,296.2 844.9,295 845.9,295 845.9,294.5 846.9,294.5 846.9,293.4 847.9,293.4 847.9,292.4 848.9,292.4 848.9,292.9 849.9,292.9 849.9,293.8 850.9,293.8 850.9,294.7 851.9,294.7 851.9,293.8 852.9,293.8 852.9,291.9 853.9,291.9 853.9,292.5 854.9,292.5 854.9,289.8 855.9,289.8 855.9,293.2 856.9,293.2 856.9,294.5 857.9,294.5 857.9,293.4 858.9,293.4 858.9,294.9 859.9,294.9 859.9,293.9 860.9,293.9 860.9,292.6 861.9,292.6 861.9,293.2 862.9,293.2 862.9,293.9 863.9,293.9 863.9,293.3 864.9,293.3 864.9,292.3 865.9,292.3 865.9,292.4 866.9,292.4 866.9,293.2 867.9,293.2 867.9,291.5 868.9,291.5 868.9,289.8 869.9,289.8 869.9,291 870.9,291 870.9,290.1 871.9,290.1 871.9,290.5 872.9,290.5 872.9,291.2 873.9,291.2 873.9,289.8 874.9,289.8 874.9,290.5 875.9,290.5 875.9,290.1 876.9,290.1 876.9,288 877.9,288 877.9,282.6 878.9,282.6 878.9,282.8 879.9,282.8 879.9,278.6 880.9,278.6 880.9,278.2 881.9,278.2 881.9,278.6 882.9,278.6 882.9,277.3 883.9,277.3 883.9,279.4 884.9,279.4 884.9,279.2 885.9,279.2 885.9,275.1 886.9,275.1 886.9,271.7 887.9,271.7 887.9,268.7 888.9,268.7 888.9,261.8 889.9,261.8 889.9,254.7 890.9,254.7 890.9,255.8 891.9,255.8 891.9,253.2 892.9,253.2 892.9,254.9 893.9,254.9 893.9,244.2 894.9,244.2 894.9,243.3 895.9,243.3 895.9,249.8 896.9,249.8 896.9,238.9 897.9,238.9 897.9,241.2 898.9,241.2 898.9,248.7 899.9,248.7 899.9,246.7 900.9,246.7 900.9,245.3 901.9,245.3 901.9,244 902.9,244 902.9,244.6 903.9,244.6 903.9,245.2 904.9,245.2 904.9,242.8 905.9,242.8 905.9,255.1 906.9,255.1 906.9,251.6 907.9,251.6 907.9,248.6 908.9,248.6 908.9,250.2 909.9,250.2 909.9,240.7 910.9,240.7 910.9,236.9 911.9,236.9 911.9,234.5 912.9,234.5 912.9,230.9 913.9,230.9 913.9,226 914.9,226 914.9,226 915.9,226 915.9,230.1 916.9,230.1 916.9,229.7 917.9,229.7 917.9,233.4 918.9,233.4 918.9,235 919.9,235 919.9,239.1 920.9,239.1 920.9,229.8 921.9,229.8 921.9,229.7 922.9,229.7 922.9,227.8 923.9,227.8 923.9,231.6 924.9,231.6 924.9,228 925.9,228 925.9,227.4 926.9,227.4 926.9,224.4 927.9,224.4 927.9,236 928.9,236 928.9,246.3 929.9,246.3 929.9,260.3 930.9,260.3 930.9,262 931.9,262 931.9,252.4 932.9,252.4 932.9,246.4 933.9,246.4 933.9,244.5 934.9,244.5 934.9,243.9 935.9,243.9 935.9,244.3 936.9,244.3 936.9,242 937.9,242 937.9,245.9 938.9,245.9 938.9,241.4 939.9,241.4 939.9,247.6 940.9,247.6 940.9,250 941.9,250 941.9,255.1 942.9,255.1 942.9,259.5 943.9,259.5 943.9,264.3 944.9,264.3 944.9,271 945.9,271 945.9,271.5 946.9,271.5 946.9,272.7 947.9,272.7 947.9,271.7 948.9,271.7 948.9,273 949.9,273 949.9,274.9 950.9,274.9 950.9,278.1 951.9,278.1 951.9,276.6 952.9,276.6 952.9,279.7 953.9,279.7 953.9,277.9 954.9,277.9 954.9,279.2 955.9,279.2 955.9,279.9 956.9,279.9 956.9,281 957.9,281 957.9,283.5 958.9,283.5 958.9,286.7 959.9,286.7 959.9,288 960.9,288 960.9,287.4 961.9,287.4 961.9,290.1 962.9,290.1 962.9,289.4 963.9,289.4 963.9,289.7 964.9,289.7 964.9,289.5 965.9,289.5 965.9,286.8 966.9,286.8 966.9,288.3 967.9,288.3 967.9,290 968.9,290 968.9,288.2 969.9,288.2 969.9,287.6 970.9,287.6 970.9,288.9 971.9,288.9 971.9,288.5 972.9,288.5 972.9,287.2 973.9,287.2 973.9,287.6 974.9,287.6 974.9,287.9 975.9,287.9 975.9,287.6 976.9,287.6 976.9,289.8 977.9,289.8 977.9,288.3 978.9,288.3 978.9,290.2 979.9,290.2 979.9,289.7 980.9,289.7 980.9,288.1 981.9,288.1 981.9,289.6 982.9,289.6 982.9,287.2 983.9,287.2 983.9,288.5 984.9,288.5 984.9,287.3 985.9,287.3 985.9,289.1 986.9,289.1 986.9,288.9 987.9,288.9 987.9,289 988.9,289 988.9,289.8 989.9,289.8 989.9,289.6 990.9,289.6 990.9,289.6 991.9,289.6 991.9,293.6 992.9,293.6 992.9,298 993.9,298 993.9,297.1 994.9,297.1 994.9,297.9 995.9,297.9 995.9,297.6 996.9,297.6 996.9,298.1 997.9,298.1 997.9,297.3 998.9,297.3 998.9,297.9 999.9,297.9 999.9,298.5 1000.9,298.5 1000.9,298.2 1001.9,298.2 1001.9,298.8 1002.9,298.8 1002.9,299.1 1003.9,299.1 1003.9,299.3 1004.9,299.3 1004.9,298.8 1005.9,298.8 1005.9,299.8 1006.9,299.8 1006.9,299.4 1007.9,299.4 1007.9,299.7 1008.9,299.7 1008.9,299.5 1009.9,299.5 1009.9,299.9 1010.9,299.9 1010.9,299.6 1011.9,299.6 1011.9,299.6 1012.9,299.6 1012.9,299.4 1013.9,299.4 1013.9,299.6 1014.9,299.6 1014.9,299.5 1015.9,299.5 1015.9,299.9 1016.9,299.9 1016.9,299.9 1017.9,299.9 1017.9,299.7 1018.9,299.7 1018.9,299.6 1019.9,299.6 1019.9,299.5 1020.9,299.5 1020.9,299.9 1021.9,299.9 1021.9,299.7 1022.9,299.7 1022.9,299.7 1023.9,299.7 1023.9,299.3 1024.9,299.3 1024.9,299.9 1025.9,299.9 1025.9,299.5 1026.9,299.5 1026.9,299.6 1027.9,299.6 1027.9,299.4 1028.9,299.4 1028.9,299.9 1029.9,299.9 1029.9,299.9 1030.9,299.9 1030.9,299.5 1031.9,299.5 1031.9,299.8 1032.9,299.8 1032.9,300 1033.9,300 1033.9,300 1034.9,300 1034.9,299.5 1035.9,299.5 1035.9,299.6 1036.9,299.6 1036.9,299.9 1037.9,299.9 1037.9,300 1038.9,300 1038.9,300 1039.9,300 1039.9,300 1040.9,300 1040.9,300.1 1041.9,300.1 1041.9,300.7 1042.9,300.7 1042.9,300.7 1043.9,300.7 1043.9,300.4 1044.9,300.4 1044.9,300.6 1045.9,300.6 1045.9,301 1046.9,301 1046.9,300.7 1047.9,300.7 1047.9,300.9 1048.9,300.9 1048.9,300.7 1049.9,300.7 1049.9,301.2 1050.9,301.2 1050.9,301 1051.9,301 1051.9,300.9 1052.9,300.9 1052.9,301.2 1053.9,301.2 1053.9,300.9 1054.9,300.9 1054.9,300.9 1055.9,300.9 1055.9,301.4 1056.9,301.4 1056.9,301.5 1057.9,301.5 1057.9,301 1058.9,301 1058.9,301 1059.9,301 1059.9,301.6 1060.9,301.6 1060.9,301.3 1061.9,301.3 1061.9,301.6 1062.9,301.6 1062.9,301.3 1063.9,301.3 1063.9,301.1 1064.9,301.1 1064.9,301.2 1065.9,301.2 1065.9,301.5 1066.9,301.5 1066.9,301.7 1067.9,301.7 1067.9,301.9 1068.9,301.9 1068.9,301.5 1069.9,301.5 1069.9,301.6 1070.9,301.6 1070.9,301.8 1071.9,301.8 1071.9,301.8 1072.9,301.8 1072.9,301.8 1073.9,301.8 1073.9,301.8 1074.9,301.8 1074.9,301.7 1075.9,301.7 1075.9,301.9 1076.9,301.9 1076.9,301.6 1077.9,301.6 1077.9,301.9 1078.9,301.9 1078.9,301.7 1079.9,301.7 1079.9,301.4 1080.9,301.4 1080.9,301.9 1081.9,301.9 1081.9,301.5 1082.9,301.5 1082.9,301.8 1083.9,301.8 1083.9,301.9 1084.9,301.9 1084.9,301.9 1085.9,301.9 1085.9,301.8 1086.9,301.8 1086.9,302.1 1087.9,302.1 1087.9,301.6 1088.9,301.6 1088.9,301.8 1089.9,301.8 1089.9,302 1090.9,302 1090.9,302.2 1091.9,302.2 1091.9,301.6 1092.9,301.6 1092.9,301.5 1093.9,301.5 1093.9,302.1 1094.9,302.1 1094.9,302 1095.9,302 1095.9,301.8 1096.9,301.8 1096.9,302.2 1097.9,302.2 1097.9,302.2 1098.9,302.2 1098.9,301.8 1099.9,301.8 1099.9,301.8 1100.9,301.8 1100.9,301.9 1101.9,301.9 1101.9,301.8 1102.9,301.8 1102.9,301.9 1103.9,301.9 1103.9,301.7 1104.9,301.7 1104.9,302.2 1105.9,302.2 1105.9,301.9 1106.9,301.9 1106.9,302.2 1107.9,302.2 1107.9,302.2 1108.9,302.2 1108.9,301.9 1109.9,301.9 1109.9,301.7 1110.9,301.7 1110.9,301.6 1111.9,301.6 1111.9,301.8 1112.9,301.8 1112.9,302.2 1113.9,302.2 1113.9,302 1114.9,302 1114.9,302.2 1115.9,302.2 1115.9,301.7 1116.9,301.7 1116.9,302.1 1117.9,302.1 1117.9,302.3 1118.9,302.3 1118.9,301.6 1119.9,301.6 1119.9,301.7 1120.9,301.7 1120.9,302.2 1121.9,302.2 1121.9,301.9 1122.9,301.9 1122.9,301.9 1123.9,301.9 1123.9,302.2 1124.9,302.2 1124.9,302.3 1125.9,302.3 1125.9,302.4 1126.9,302.4 1126.9,301.8 1127.9,301.8 1127.9,302.1 1128.9,302.1 1128.9,301.7 1129.9,301.7 1129.9,302 1130.9,302 1130.9,302.3 1131.9,302.3 1131.9,301.9 1132.9,301.9 1132.9,302 1133.9,302 1133.9,302.2 1134.9,302.2 1134.9,301.7 1135.9,301.7 1135.9,301.9 1136.9,301.9 1136.9,302 1137.9,302 1137.9,302.3 1138.9,302.3 1138.9,302.2 1139.9,302.2 1139.9,302.1 1140.9,302.1 1140.9,301.9 1141.9,301.9 1141.9,302.3 1142.9,302.3 1142.9,301.9 1143.9,301.9 1143.9,302.3 1144.9,302.3 1144.9,301.9 1145.9,301.9 1145.9,302.4 1146.9,302.4 1146.9,301.8 1147.9,301.8 1147.9,301.8 1148.9,301.8 1148.9,302.4 1149.9,302.4 1149.9,301.9 1150.9,301.9 1150.9,302.2 1151.9,302.2 1151.9,302 1152.9,302 1152.9,302.2 1153.9,302.2 1153.9,302.2 1154.9,302.2 1154.9,302.1 1155.9,302.1 1155.9,302.1 1156.9,302.1 1156.9,302.3 1157.9,302.3 1157.9,301.9 1158.9,301.9 1158.9,302.3 1159.9,302.3 1159.9,301.8 1160.9,301.8 1160.9,302.4 1161.9,302.4 1161.9,302.1 1162.9,302.1 1162.9,302.3 1163.9,302.3 1163.9,301.9 1164.9,301.9 1164.9,302.5 1165.9,302.5 1165.9,302.5 1166.9,302.5 1166.9,302.4 1167.9,302.4 1167.9,302.4 1168.9,302.4 1168.9,302.4 1169.9,302.4 1169.9,301.9 1170.9,301.9 1170.9,302.2 1171.9,302.2 1171.9,302 1172.9,302 1172.9,301.9 1173.9,301.9 1173.9,302.4 1174.9,302.4 1174.9,302.6 1175.9,302.6 1175.9,302.6 1176.9,302.6 1176.9,302.2 1177.9,302.2 1177.9,302.1 1178.9,302.1 1178.9,302.3 1179.9,302.3 1179.9,302 1180.9,302 1180.9,302.5 1181.9,302.5 1181.9,302.5 1182.9,302.5 1182.9,302.3 1183.9,302.3 1183.9,302.5 1184.9,302.5 1184.9,302.1 1185.9,302.1 1185.9,302.5 1186.9,302.5 1186.9,302.2 1187.9,302.2 1187.9,302.3 1188.9,302.3 1188.9,302.6 1189.9,302.6 1189.9,302.3 1190.9,302.3 1190.9,302.5 1191.9,302.5 1191.9,302.1 1192.9,302.1 1192.9,302 1193.9,302 1193.9,302.6 1194.9,302.6 1194.9,302.6 1195.9,302.6 1195.9,302.5 1196.9,302.5 1196.9,302.3 1197.9,302.3 1197.9,302.2 1198.9,302.2 1198.9,302 1199.9,302 1199.9,302.6 1200.9,302.6 1200.9,302.6 1201.9,302.6 1201.9,302.2 1202.9,302.2 1202.9,302.5 1203.9,302.5 1203.9,302.4 1204.9,302.4 1204.9,302.4 1205.9,302.4 1205.9,302.4 1206.9,302.4 1206.9,302.4 1207.9,302.4 1207.9,302.1 1208.9,302.1 1208.9,302.2 1209.9,302.2 1209.9,302.2 1210.9,302.2 1210.9,302.3 1211.9,302.3 1211.9,302.3 1212.9,302.3 1212.9,302.8 1213.9,302.8 1213.9,302.7 1214.9,302.7 1214.9,302.6 1215.9,302.6 1215.9,302.3 1216.9,302.3 1216.9,302.5 1217.9,302.5 1217.9,302.4 1218.9,302.4 1218.9,302.4 1219.9,302.4 1219.9,302.7 1220.9,302.7 1220.9,302.6 1221.9,302.6 1221.9,302.6 1222.9,302.6 1222.9,302.4 1223.9,302.4 1223.9,302.4 1224.9,302.4 1224.9,302.4 1225.9,302.4 1225.9,302.6 1226.9,302.6 1226.9,302.7 1227.9,302.7 1227.9,302.7 1228.9,302.7 1228.9,302.5 1229.9,302.5 1229.9,302.4 1230.9,302.4 1230.9,302.7 1231.9,302.7 1231.9,302.6 1232.9,302.6 1232.9,302.8 1233.9,302.8 1233.9,302.4 1234.9,302.4 1234.9,302.3 1235.9,302.3 1235.9,302.8 1236.9,302.8 1236.9,302.2 1237.9,302.2 1237.9,302.3 1238.9,302.3 1238.9,302.6 1239.9,302.6 1239.9,302.7 1240.9,302.7 1240.9,302.4 1241.9,302.4 1241.9,302.2 1242.9,302.2 1242.9,302.6 1243.9,302.6 1243.9,302.8 1244.9,302.8 1244.9,302.9 1245.9,302.9 1245.9,302.4 1246.9,302.4 1246.9,302.5 1247.9,302.5 1247.9,302.7 1248.9,302.7 1248.9,302.8 1249.9,302.8 1249.9,302.5 1250.9,302.5 1250.9,302.3 1251.9,302.3 1251.9,302.4 1252.9,302.4 1252.9,302.4 1253.9,302.4 1253.9,302.6 1254.9,302.6 1254.9,302.4 1255.9,302.4 1255.9,302.3 1256.9,302.3 1256.9,302.9 1257.9,302.9 1257.9,302.7 1258.9,302.7 1258.9,302.3 1259.9,302.3 1259.9,302.8 1260.9,302.8 1260.9,302.4 1261.9,302.4 1261.9,302.6 1262.9,302.6 1262.9,302.7 1263.9,302.7 1263.9,302.8 1264.9,302.8 1264.9,303 1265.9,303 1265.9,302.5 1266.9,302.5 1266.9,302.3 1267.9,302.3 1267.9,302.4 1268.9,302.4 1268.9,302.5 1269.9,302.5 1269.9,302.5 1270.9,302.5 1270.9,302.6 1271.9,302.6 1271.9,302.6 1272.9,302.6 1272.9,303 1273.9,303 1273.9,303 1274.9,303 1274.9,302.6 1275.9,302.6 1275.9,302.6 1276.9,302.6 1276.9,303 1277.9,303 1277.9,302.8 1278.9,302.8 1278.9,303 1279.9,303 1279.9,302.6 1280.9,302.6 1280.9,302.4 1281.9,302.4 1281.9,302.6 1282.9,302.6 1282.9,302.5 1283.9,302.5 1283.9,302.8 1284.9,302.8 1284.9,302.8 1285.9,302.8 1285.9,302.4 1286.9,302.4 1286.9,302.9 1287.9,302.9 1287.9,302.8 1288.9,302.8 1288.9,302.7 1289.9,302.7 1289.9,302.7 1290.9,302.7 1290.9,302.7 1291.9,302.7 1291.9,302.9 1292.9,302.9 1292.9,302.7 1293.9,302.7 1293.9,303 1294.9,303 1294.9,302.8 1295.9,302.8 1295.9,302.6 1296.9,302.6 1296.9,302.9 1297.9,302.9 1297.9,302.8 1298.9,302.8 1298.9,302.5 1299.9,302.5 1299.9,302.9 1300.9,302.9 1300.9,303 1301.9,303 1301.9,302.7 1302.9,302.7 1302.9,302.8 1303.9,302.8 1303.9,302.5 1304.9,302.5 1304.9,302.5 1305.9,302.5 1305.9,302.6 1306.9,302.6 1306.9,303.1 1307.9,303.1 1307.9,302.5 1308.9,302.5 1308.9,302.7 1309.9,302.7 1309.9,302.9 1310.9,302.9 1310.9,303.1 1311.9,303.1 1311.9,303.1 1312.9,303.1 1312.9,302.9 1313.9,302.9 1313.9,302.5 1314.9,302.5 1314.9,302.8 1315.9,302.8 1315.9,303.1 1316.9,303.1 1316.9,302.7 1317.9,302.7 1317.9,302.5 1318.9,302.5 1318.9,303.1 1319.9,303.1 1319.9,303.1 1320.9,303.1 1320.9,303 1321.9,303 1321.9,302.6 1322.9,302.6 1322.9,303 1323.9,303 1323.9,302.6 1324.9,302.6 1324.9,302.7 1325.9,302.7 1325.9,302.5 1326.9,302.5 1326.9,302.6 1327.9,302.6 1327.9,303.1 1328.9,303.1 1328.9,303 1329.9,303 1329.9,303 1330.9,303 1330.9,302.9 1331.9,302.9 1331.9,302.7 1332.9,302.7 1332.9,302.6 1333.9,302.6 1333.9,302.7 1334.9,302.7 1334.9,303.1 1335.9,303.1 1335.9,302.9 1336.9,302.9 1336.9,302.6 1337.9,302.6 1337.9,302.7 1338.9,302.7 1338.9,302.8 1339.9,302.8 1339.9,302.7 1340.9,302.7 1340.9,302.6 1341.9,302.6 1341.9,302.9 1342.9,302.9 1342.9,303.1 1343.9,303.1 1343.9,302.7 1344.9,302.7 1344.9,302.9 1345.9,302.9 1345.9,303.1 1346,303.1 1346,305 784.6,305 784.6,303" fill="#1400ff" stroke="#1400ff" stroke-width="0.5" stroke-linejoin="round"/>
<path d="M794.4 300V57.3M914.7 300V201.6" stroke="#1400ff" stroke-width="1.9" stroke-linecap="round" fill="none"/>
<g font-family="Liberation Serif, Times New Roman, serif" font-size="33.5" fill="#111111" stroke="#111111" stroke-width="0.3">
<text x="89.0" y="37.5" text-anchor="end">0.5</text>
<text x="89.0" y="176.8" text-anchor="end">0</text>
<text x="89.0" y="316.0" text-anchor="end">-0.5</text>
<text x="97.5" y="342.7" text-anchor="middle">0</text>
<text x="208.1" y="342.7" text-anchor="middle">1</text>
<text x="318.6" y="342.7" text-anchor="middle">2</text>
<text x="429.2" y="342.7" text-anchor="middle">3</text>
<text x="539.7" y="342.7" text-anchor="middle">4</text>
<text x="650.3" y="342.7" text-anchor="middle">5</text>
<text x="776.2" y="316.0" text-anchor="end">0</text>
<text x="776.2" y="250.8" text-anchor="end">2</text>
<text x="776.2" y="185.7" text-anchor="end">4</text>
<text x="776.2" y="120.5" text-anchor="end">6</text>
<text x="784.2" y="342.7" text-anchor="middle">0</text>
<text x="959.8" y="342.7" text-anchor="middle">5</text>
<text x="1135.3" y="342.7" text-anchor="middle">10</text>
<text x="1310.9" y="342.7" text-anchor="middle">15</text>
<text x="785.6" y="42.1" font-size="41">×</text>
<text x="810.8" y="37.1" font-size="33">10</text>
<text x="842.7" y="20.4" font-size="26.7">-4</text>
</g>
<g font-family="Liberation Serif, Times New Roman, serif" font-size="36.3" fill="#111111" stroke="#111111" stroke-width="0.3">
<text x="373.2" y="383.3" text-anchor="middle" font-size="36.1">Time in Seconds</text>
<text x="1065.3" y="383.2" text-anchor="middle" font-size="36.6">Frequency in kHz</text>
<text transform="translate(27.7 167.65) rotate(-90)" text-anchor="middle">Amplitude in Voltage</text>
<text transform="translate(750.5 173.8) rotate(-90)" text-anchor="middle">Amplitude of FFT</text>
</g>
<g font-family="Liberation Serif, Times New Roman, serif" font-size="34" font-weight="bold" fill="#000">
<text x="4.7" y="376.3">(a)</text>
<text x="702.1" y="376.4">(b)</text>
</g>
</svg>
</body></html>
